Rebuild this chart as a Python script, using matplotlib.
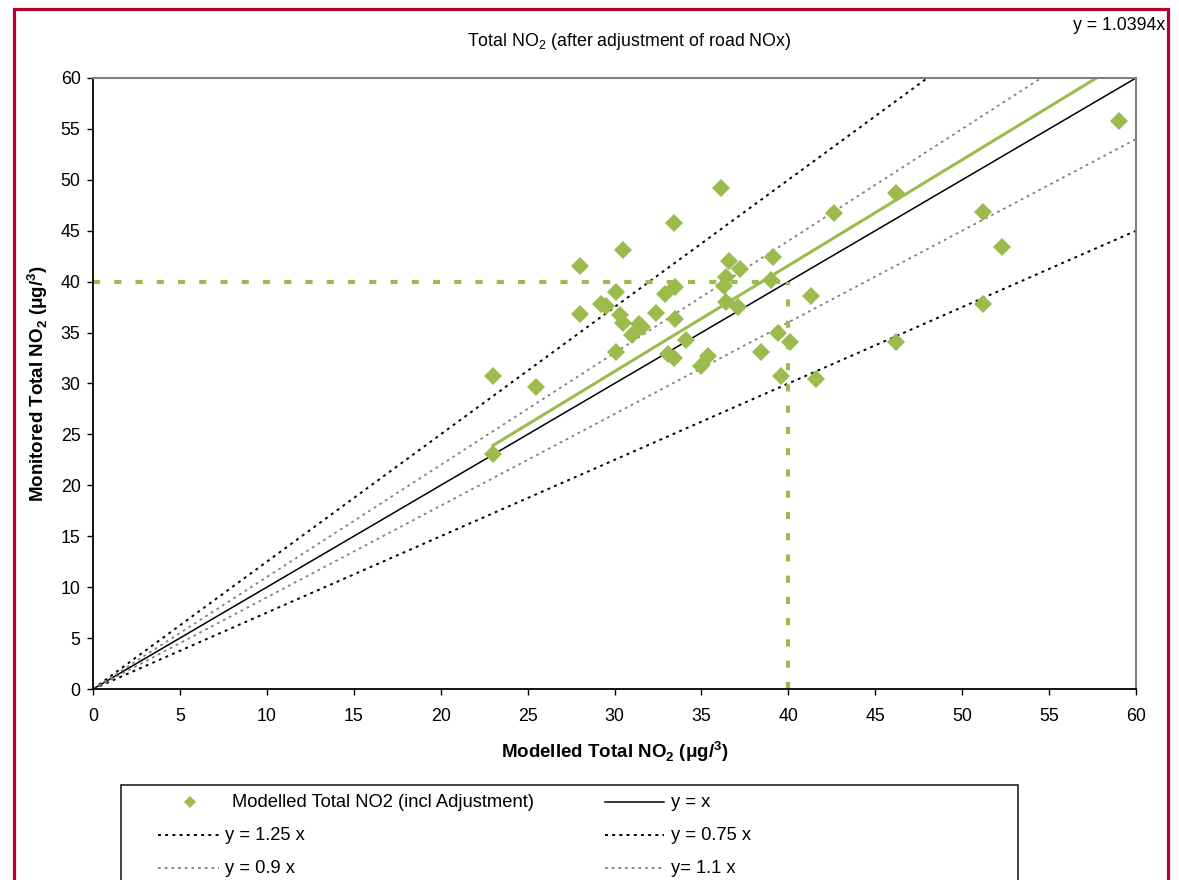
import numpy as np
import matplotlib
matplotlib.use("Agg")
import matplotlib.pyplot as plt
from matplotlib.patches import Rectangle
from matplotlib.lines import Line2D

plt.rcParams['font.family'] = ['Liberation Sans', 'DejaVu Sans']
plt.rcParams['mathtext.fontset'] = 'custom'
plt.rcParams['mathtext.rm'] = 'Liberation Sans'
plt.rcParams['mathtext.bf'] = 'Liberation Sans:bold'

# modelled vs monitored total NO2 (ug/m3)
modelled = [23.0, 23.0, 25.5, 28.0, 28.0, 29.2, 29.5, 30.1, 30.1, 30.3, 30.5, 30.5,
            31.0, 31.4, 31.6, 32.4, 32.9, 33.1, 33.4, 33.4, 33.5, 33.5, 34.1, 35.0,
            35.4, 36.1, 36.6, 36.4, 36.3, 37.2, 36.4, 37.1, 39.1, 39.0, 39.4, 40.1,
            38.4, 39.6, 41.3, 41.6, 42.6, 46.2, 51.2, 52.3, 51.2, 46.2, 59.0]
monitored = [30.7, 23.1, 29.7, 41.5, 36.8, 37.8, 37.6, 39.0, 33.1, 36.7, 35.9, 43.1,
             34.8, 35.8, 35.5, 36.9, 38.8, 32.9, 45.8, 32.5, 39.5, 36.3, 34.3, 31.7,
             32.7, 49.2, 42.0, 40.5, 39.6, 41.2, 38.0, 37.5, 42.4, 40.2, 35.0, 34.1,
             33.1, 30.7, 38.6, 30.4, 46.7, 48.7, 46.8, 43.4, 37.8, 34.1, 55.8]

trend_slope = 1.0394
ref_x = [0, 60]
objective = 40

green = '#9BBB4C'
grey = '#808080'
dot = (0, (1.5, 2.2))
fs = 12.8

fig = plt.figure(figsize=(11.79, 8.8), dpi=100)
W, H = 1179, 880

def fx(px):
    return px / W

def fy(py):
    return 1 - py / H

ax = fig.add_axes([fx(93), fy(689), fx(1136) - fx(93), fy(78) - fy(689)])

# reference lines
ax.plot(ref_x, [1.0 * v for v in ref_x], color='black', lw=1.1)
ax.plot(ref_x, [1.25 * v for v in ref_x], color='black', lw=1.4, ls=dot)
ax.plot(ref_x, [0.75 * v for v in ref_x], color='black', lw=1.4, ls=dot)
ax.plot(ref_x, [0.9 * v for v in ref_x], color=grey, lw=1.3, ls=dot)
ax.plot(ref_x, [1.1 * v for v in ref_x], color=grey, lw=1.3, ls=dot)

# objective lines
ax.plot([0, objective], [objective, objective], color=green, lw=3, dashes=(1.7, 3.4))
ax.plot([objective, objective], [0, objective], color=green, lw=3, dashes=(1.7, 3.4))

# linear trendline through origin
tx = [min(modelled), max(modelled)]
ax.plot(tx, [trend_slope * v for v in tx], color=green, lw=2.2)

ax.plot(modelled, monitored, 'D', color=green, markersize=9, markeredgewidth=0,
        zorder=5)

ax.set_xlim(0, 60)
ax.set_ylim(0, 60)
ax.set_xticks(np.arange(0, 61, 5))
ax.set_yticks(np.arange(0, 61, 5))
ax.tick_params(axis='both', labelsize=fs, length=4, width=1, direction='out')
ax.tick_params(axis='x', pad=10)
ax.tick_params(axis='y', pad=5)
for s in ['left', 'bottom']:
    ax.spines[s].set_color('black')
    ax.spines[s].set_linewidth(1.3)
for s in ['top', 'right']:
    ax.spines[s].set_color(grey)
    ax.spines[s].set_linewidth(1.5)

ax.set_xlabel(r'Modelled Total NO$_\mathbf{2}$ ($\mathbf{\mu}$g/$^\mathbf{3}$)',
              fontsize=13.5, fontweight='bold', labelpad=10)
ax.set_ylabel(r'Monitored Total NO$_\mathbf{2}$ ($\mathbf{\mu}$g/$^\mathbf{3}$)',
              fontsize=13.5, fontweight='bold', labelpad=8)

fig.text(fx(629), fy(42), r'Total NO$_2$ (after adjustment of road NOx)',
         fontsize=fs, ha='center', va='center')
fig.text(fx(1165), fy(25), 'y = 1.0394x', fontsize=fs, ha='right', va='center')

# outer red border
fig.patches.append(Rectangle((fx(13.5), fy(900)), fx(1167.5) - fx(13.5), fy(9.5) - fy(900),
                             transform=fig.transFigure, fill=False,
                             edgecolor='#B8002E', lw=2.3))

# legend box (cut off at bottom)
fig.patches.append(Rectangle((fx(121), fy(900)), fx(1018) - fx(121), fy(785) - fy(900),
                             transform=fig.transFigure, fill=False,
                             edgecolor='#222222', lw=1.2))

def leg_line(x0, x1, y, **kw):
    fig.lines.append(Line2D([fx(x0), fx(x1)], [fy(y), fy(y)],
                            transform=fig.transFigure, **kw))

lfs = 13.2
fig.lines.append(Line2D([fx(190)], [fy(802)], transform=fig.transFigure, marker='D',
                        color=green, markersize=6, markeredgewidth=0, ls='none'))
fig.text(fx(232), fy(802), 'Modelled Total NO2 (incl Adjustment)', fontsize=lfs, va='center')
leg_line(605, 664, 802, color='black', lw=1.1)
fig.text(fx(671), fy(802), 'y = x', fontsize=lfs, va='center')
leg_line(158, 219, 835, color='black', lw=1.4, ls=dot)
fig.text(fx(225), fy(835), 'y = 1.25 x', fontsize=lfs, va='center')
leg_line(605, 664, 835, color='black', lw=1.4, ls=dot)
fig.text(fx(671), fy(835), 'y = 0.75 x', fontsize=lfs, va='center')
leg_line(158, 219, 868, color=grey, lw=1.3, ls=dot)
fig.text(fx(225), fy(868), 'y = 0.9 x', fontsize=lfs, va='center')
leg_line(605, 664, 868, color=grey, lw=1.3, ls=dot)
fig.text(fx(671), fy(868), 'y= 1.1 x', fontsize=lfs, va='center')

fig.savefig('out.png', dpi=100)
